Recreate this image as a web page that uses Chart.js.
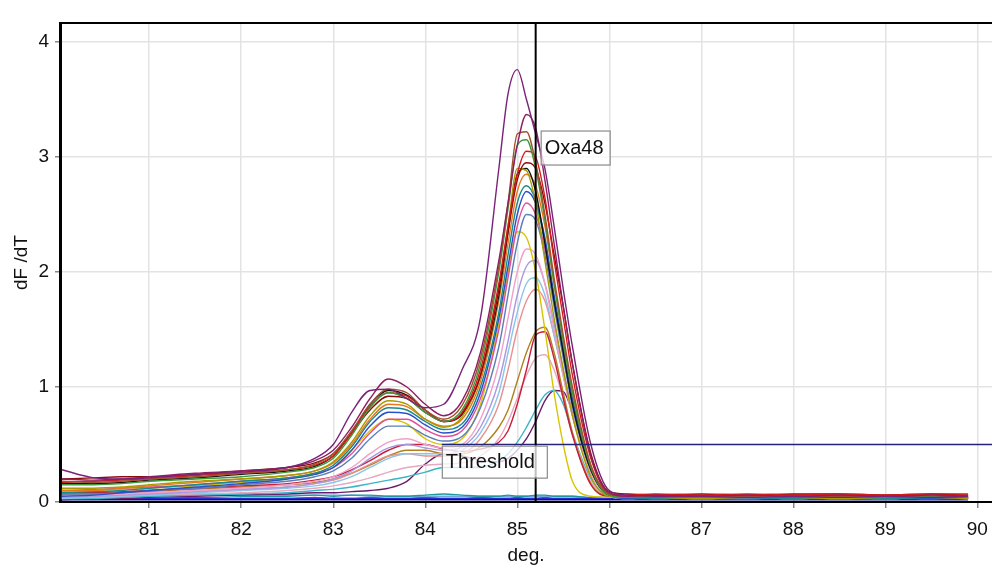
<!DOCTYPE html>
<html>
<head>
<meta charset="utf-8">
<script src="https://cdn.jsdelivr.net/npm/chart.js@4.4.1/dist/chart.umd.min.js"></script>
<style>
  html, body { margin: 0; padding: 0; background: #fff; }
  canvas { display: block; }
</style>
</head>
<body>
<canvas id="meltChart" width="992" height="567"></canvas>
<script>
// temperature grid (deg.)
const temps = [80.05, 80.4, 80.7, 81.0, 81.5, 82.0, 82.5, 82.8,
  83.0, 83.2, 83.4, 83.6, 83.8, 84.0, 84.2, 84.4, 84.6,
  84.8, 84.9, 85.0, 85.1, 85.2, 85.3, 85.4, 85.5, 85.6, 85.8, 86.0,
  86.2, 86.5, 87.0, 87.5, 88.0, 88.5, 89.0, 89.5, 89.9];

// dF/dT per well
const purpleWide = [0.28,0.21,0.2,0.21,0.24,0.26,0.3,0.38, 0.5,0.78,0.97,0.98,0.9,0.82,0.85,1.15,1.6, 2.9,3.55,3.76,3.5,3.2,2.9,2.4,1.85,1.35,0.5,0.1, 0.06,0.05,0.05,0.04,0.05,0.04,0.05,0.04,0.05];
const purpleDark = [0.2,0.19,0.2,0.22,0.25,0.27,0.3,0.36, 0.45,0.65,0.9,1.07,1.0,0.85,0.75,0.88,1.3, 2.1,2.6,3.1,3.37,3.25,2.8,2.25,1.7,1.2,0.4,0.08, 0.05,0.06,0.05,0.06,0.05,0.06,0.05,0.06,0.05];
const brown = [0.18,0.17,0.18,0.2,0.22,0.25,0.28,0.33, 0.42,0.62,0.85,0.98,0.95,0.8,0.72,0.84,1.25, 2.05,2.6,3.2,3.22,2.95,2.5,1.95,1.45,1.0,0.32,0.07, 0.05,0.04,0.05,0.05,0.04,0.05,0.05,0.04,0.05];
const green = [0.15,0.15,0.16,0.18,0.2,0.22,0.26,0.3, 0.38,0.58,0.82,0.95,0.9,0.78,0.7,0.8,1.2, 2.0,2.55,3.1,3.15,2.9,2.45,1.9,1.4,0.95,0.3,0.06, 0.04,0.05,0.04,0.04,0.05,0.04,0.04,0.05,0.04];
const red = [0.17,0.18,0.19,0.2,0.23,0.25,0.28,0.32, 0.4,0.6,0.83,0.95,0.92,0.8,0.7,0.78,1.15, 1.9,2.4,2.85,3.05,3.0,2.65,2.1,1.6,1.1,0.38,0.08, 0.06,0.07,0.06,0.07,0.06,0.07,0.06,0.07,0.07];
const darkRed = [0.2,0.21,0.22,0.22,0.24,0.27,0.3,0.34, 0.42,0.6,0.8,0.92,0.9,0.78,0.7,0.77,1.1, 1.85,2.35,2.8,2.95,2.9,2.6,2.15,1.7,1.2,0.42,0.09, 0.07,0.06,0.07,0.06,0.07,0.07,0.06,0.07,0.06];
const olive = [0.12,0.12,0.13,0.15,0.18,0.2,0.23,0.27, 0.35,0.52,0.75,0.88,0.85,0.72,0.65,0.74,1.1, 1.85,2.4,2.9,2.88,2.6,2.1,1.6,1.15,0.75,0.22,0.05, 0.04,0.04,0.03,0.04,0.04,0.03,0.04,0.04,0.03];
const black = [0.16,0.16,0.17,0.19,0.21,0.24,0.27,0.31, 0.4,0.6,0.85,0.97,0.93,0.8,0.7,0.76,1.1, 1.8,2.35,2.85,2.9,2.7,2.25,1.75,1.3,0.85,0.28,0.06, 0.04,0.04,0.05,0.04,0.04,0.05,0.04,0.04,0.04];
const orange = [0.1,0.1,0.12,0.14,0.17,0.2,0.23,0.27, 0.34,0.5,0.72,0.85,0.83,0.72,0.66,0.72,1.05, 1.75,2.25,2.7,2.85,2.75,2.4,1.9,1.4,0.95,0.32,0.07, 0.05,0.06,0.05,0.05,0.06,0.05,0.06,0.05,0.06];
const teal = [0.08,0.09,0.1,0.12,0.15,0.18,0.21,0.25, 0.32,0.48,0.7,0.82,0.8,0.7,0.63,0.68,1.0, 1.65,2.15,2.6,2.75,2.62,2.25,1.75,1.3,0.85,0.28,0.06, 0.04,0.03,0.04,0.04,0.03,0.04,0.03,0.04,0.04];
const blue = [0.05,0.06,0.08,0.1,0.13,0.16,0.2,0.24, 0.3,0.45,0.66,0.78,0.77,0.67,0.6,0.65,0.95, 1.6,2.05,2.5,2.7,2.6,2.3,1.8,1.35,0.9,0.3,0.06, 0.03,0.03,0.03,0.04,0.03,0.03,0.04,0.03,0.03];
const pink = [0.1,0.11,0.12,0.13,0.15,0.18,0.21,0.25, 0.3,0.42,0.6,0.72,0.72,0.63,0.57,0.62,0.9, 1.5,1.95,2.4,2.6,2.5,2.2,1.75,1.3,0.88,0.3,0.06, 0.05,0.04,0.05,0.05,0.04,0.05,0.04,0.05,0.05];
const steel = [0.07,0.07,0.08,0.1,0.12,0.15,0.18,0.22, 0.27,0.38,0.55,0.66,0.66,0.58,0.53,0.57,0.82, 1.35,1.8,2.25,2.5,2.45,2.15,1.7,1.25,0.85,0.28,0.06, 0.04,0.04,0.04,0.03,0.04,0.04,0.03,0.04,0.04];
const yellow = [0.09,0.1,0.11,0.12,0.14,0.17,0.2,0.24, 0.3,0.45,0.62,0.72,0.68,0.55,0.5,0.55,0.85, 1.55,2.0,2.35,2.3,2.0,1.5,0.95,0.5,0.18,0.05,0.04, 0.04,0.04,0.03,0.04,0.04,0.03,0.04,0.04,0.03];
const lightPink = [0.06,0.06,0.07,0.08,0.1,0.12,0.15,0.18, 0.22,0.3,0.42,0.52,0.55,0.5,0.47,0.5,0.72, 1.2,1.6,2.0,2.2,2.15,1.9,1.5,1.1,0.75,0.25,0.06, 0.04,0.04,0.04,0.04,0.04,0.04,0.04,0.04,0.04];
const lavender = [0.04,0.05,0.06,0.07,0.09,0.11,0.13,0.16, 0.2,0.27,0.38,0.47,0.5,0.47,0.45,0.48,0.65, 1.05,1.4,1.8,2.05,2.1,1.9,1.55,1.15,0.8,0.27,0.06, 0.03,0.04,0.03,0.03,0.04,0.03,0.03,0.04,0.03];
const lightBlue = [0.03,0.04,0.05,0.06,0.08,0.1,0.12,0.14, 0.17,0.22,0.3,0.38,0.42,0.42,0.42,0.45,0.6, 0.95,1.3,1.65,1.9,1.95,1.8,1.45,1.1,0.75,0.25,0.06, 0.04,0.03,0.04,0.04,0.03,0.04,0.04,0.03,0.04];
const salmon = [0.05,0.05,0.06,0.07,0.09,0.11,0.13,0.16, 0.19,0.25,0.33,0.4,0.42,0.4,0.4,0.42,0.55, 0.85,1.15,1.5,1.75,1.85,1.75,1.45,1.1,0.75,0.25,0.06, 0.05,0.05,0.04,0.05,0.05,0.04,0.05,0.05,0.04];
const lateRed = [0.08,0.08,0.09,0.1,0.12,0.14,0.16,0.19, 0.22,0.28,0.36,0.45,0.5,0.5,0.46,0.44,0.46, 0.52,0.62,0.85,1.15,1.45,1.48,1.25,0.9,0.58,0.15,0.05, 0.05,0.06,0.05,0.06,0.06,0.05,0.06,0.06,0.05];
const ochre = [0.07,0.07,0.08,0.09,0.11,0.13,0.15,0.17, 0.2,0.25,0.32,0.4,0.45,0.45,0.42,0.42,0.48, 0.65,0.8,1.05,1.3,1.48,1.52,1.3,0.95,0.6,0.16,0.05, 0.04,0.05,0.04,0.05,0.04,0.05,0.04,0.05,0.04];
const rose = [0.04,0.04,0.05,0.06,0.07,0.08,0.1,0.12, 0.14,0.17,0.21,0.26,0.3,0.32,0.33,0.34,0.4, 0.55,0.7,0.9,1.1,1.25,1.28,1.15,0.9,0.6,0.18,0.05, 0.03,0.04,0.03,0.04,0.03,0.04,0.03,0.04,0.03];
const cyan = [0.03,0.03,0.04,0.05,0.06,0.07,0.08,0.1, 0.11,0.13,0.16,0.19,0.22,0.26,0.3,0.3,0.3, 0.36,0.42,0.52,0.65,0.8,0.93,0.97,0.85,0.6,0.2,0.05, 0.03,0.03,0.03,0.03,0.03,0.03,0.03,0.03,0.03];
const purpleLow = [0.02,0.03,0.03,0.04,0.05,0.06,0.07,0.08, 0.08,0.09,0.1,0.12,0.18,0.33,0.42,0.4,0.36, 0.35,0.38,0.45,0.55,0.7,0.88,0.97,0.96,0.78,0.3,0.07, 0.04,0.04,0.04,0.04,0.04,0.04,0.04,0.04,0.04];
// no-template wells
const navyFlat = [0.02,0.02,0.02,0.02,0.02,0.02,0.02,0.02, 0.02,0.02,0.02,0.02,0.02,0.02,0.02,0.02,0.02, 0.02,0.02,0.02,0.02,0.02,0.02,0.02,0.02,0.02,0.02,0.02, 0.02,0.02,0.02,0.02,0.02,0.02,0.02,0.02,0.02];
const blueFlat = [0.03,0.03,0.03,0.03,0.03,0.03,0.03,0.03, 0.03,0.03,0.03,0.03,0.03,0.03,0.03,0.03,0.03, 0.03,0.03,0.03,0.03,0.03,0.03,0.03,0.03,0.03,0.03,0.03, 0.03,0.03,0.03,0.03,0.03,0.03,0.03,0.03,0.03];
const tealFlat = [0.06,0.06,0.05,0.05,0.06,0.05,0.05,0.06, 0.05,0.06,0.06,0.05,0.05,0.06,0.07,0.06,0.05, 0.05,0.06,0.05,0.05,0.06,0.06,0.05,0.05,0.05,0.04,0.04, 0.04,0.04,0.04,0.04,0.04,0.04,0.04,0.04,0.04];
const skyFlat = [0.1,0.09,0.08,0.08,0.07,0.07,0.06,0.06, 0.06,0.06,0.05,0.05,0.05,0.05,0.05,0.05,0.05, 0.05,0.05,0.05,0.05,0.05,0.05,0.05,0.05,0.05,0.04,0.04, 0.04,0.04,0.04,0.04,0.04,0.04,0.04,0.04,0.04];
const magentaFlat = [0.04,0.04,0.03,0.03,0.04,0.03,0.03,0.04, 0.03,0.03,0.04,0.03,0.03,0.04,0.03,0.03,0.04, 0.03,0.03,0.04,0.03,0.03,0.04,0.03,0.03,0.03,0.03,0.03, 0.03,0.03,0.03,0.03,0.03,0.03,0.03,0.03,0.03];

const xTicks = [81, 82, 83, 84, 85, 86, 87, 88, 89, 90];
const yTicks = [0, 1, 2, 3, 4];
const cursorTemp = 85.2;      // Oxa48 marker
const thresholdStart = 84.18;
const thresholdValue = 0.5;

const wells = [
  [purpleWide, "#7a2277"], [purpleDark, "#8e1f63"], [brown, "#a0522d"],
  [green, "#3c9a3c"], [red, "#d41c1c"], [darkRed, "#8b0a0a"],
  [olive, "#a89a00"], [black, "#111111"], [orange, "#e87820"],
  [teal, "#1a8a8a"], [blue, "#2a4fc8"], [pink, "#e0509a"],
  [steel, "#5a7fb8"], [yellow, "#d8c400"], [lightPink, "#f2a0c8"],
  [lavender, "#a898e0"], [lightBlue, "#8cc4e8"], [salmon, "#e89090"],
  [lateRed, "#c81e3c"], [ochre, "#b08020"], [rose, "#e8a8c0"],
  [cyan, "#3cb4c8"], [purpleLow, "#6a1c6a"],
  [navyFlat, "#14147a"], [blueFlat, "#2828d0"], [tealFlat, "#2098a0"],
  [skyFlat, "#70a8d8"], [magentaFlat, "#b030b0"],
];

const datasets = wells.map(([vals, color]) => ({
  data: temps.map((t, i) => ({ x: t, y: vals[i] })),
  borderColor: color,
  borderWidth: 1.4,
  pointRadius: 0,
  fill: false,
  cubicInterpolationMode: "monotone",
}));

datasets.unshift({
  data: [{ x: thresholdStart, y: thresholdValue }, { x: 90.16, y: thresholdValue }],
  borderColor: "#24237a",
  borderWidth: 1.5,
  pointRadius: 0,
});
datasets.unshift({
  data: [{ x: cursorTemp, y: 0 }, { x: cursorTemp, y: 4.165 }],
  borderColor: "#000",
  borderWidth: 2,
  pointRadius: 0,
});

const boxLabel = (ctx, text, left, top, w, h) => {
  ctx.save();
  ctx.fillStyle = "rgba(255,255,255,0.75)";
  ctx.fillRect(left, top, w, h);
  ctx.strokeStyle = "#8a8a8a";
  ctx.lineWidth = 1.2;
  ctx.strokeRect(left + 0.5, top + 0.5, w, h);
  ctx.fillStyle = "#111";
  ctx.font = "20px 'Liberation Sans', Arial, sans-serif";
  ctx.textBaseline = "middle";
  ctx.fillText(text, left + 4, top + h / 2 + 1);
  ctx.restore();
};

const extras = {
  id: "extras",
  afterDatasetsDraw(chart) {
    const { ctx, chartArea, scales: { x, y } } = chart;
    ctx.save();
    ctx.strokeStyle = "#000";
    ctx.lineWidth = 2;
    ctx.beginPath();
    ctx.moveTo(chartArea.left, chartArea.top);
    ctx.lineTo(chartArea.right, chartArea.top);
    ctx.stroke();
    ctx.restore();
    boxLabel(ctx, "Oxa48", x.getPixelForValue(cursorTemp) + 5, y.getPixelForValue(3.23), 69, 34);
    boxLabel(ctx, "Threshold", x.getPixelForValue(thresholdStart), y.getPixelForValue(0.49), 105, 32);
  },
};

const tickFont = { family: "'Liberation Sans', Arial, sans-serif", size: 19 };

new Chart(document.getElementById("meltChart").getContext("2d"), {
  type: "line",
  data: { datasets },
  options: {
    responsive: false,
    animation: false,
    layout: { padding: { top: 23, right: 0, left: 0, bottom: 0 } },
    plugins: { legend: { display: false }, tooltip: { enabled: false } },
    scales: {
      x: {
        type: "linear",
        min: 80.03,
        max: 90.16,
        afterBuildTicks: (s) => { s.ticks = xTicks.map((v) => ({ value: v })); },
        afterFit: (s) => { s.height = 65; s.paddingLeft = 0; s.paddingRight = 0; },
        grid: { color: "#e3e3e3", lineWidth: 1.5, tickColor: "#888", tickLength: 6 },
        border: { color: "#000", width: 2 },
        ticks: { font: tickFont, color: "#111", padding: 10, maxRotation: 0 },
        title: { display: true, text: "deg.", font: tickFont, color: "#111", padding: { top: 0, bottom: 0 } },
      },
      y: {
        min: 0,
        max: 4.165,
        afterBuildTicks: (s) => { s.ticks = yTicks.map((v) => ({ value: v })); },
        afterFit: (s) => { s.width = 60; s.paddingTop = 0; s.paddingBottom = 0; },
        grid: { color: "#e3e3e3", lineWidth: 1.5, tickColor: "#888", tickLength: 5 },
        border: { color: "#000", width: 3 },
        ticks: { font: tickFont, color: "#111", padding: 6 },
        title: { display: true, text: "dF /dT", font: tickFont, color: "#111", padding: { top: 10, bottom: 4 } },
      },
    },
  },
  plugins: [extras],
});
</script>
</body>
</html>
